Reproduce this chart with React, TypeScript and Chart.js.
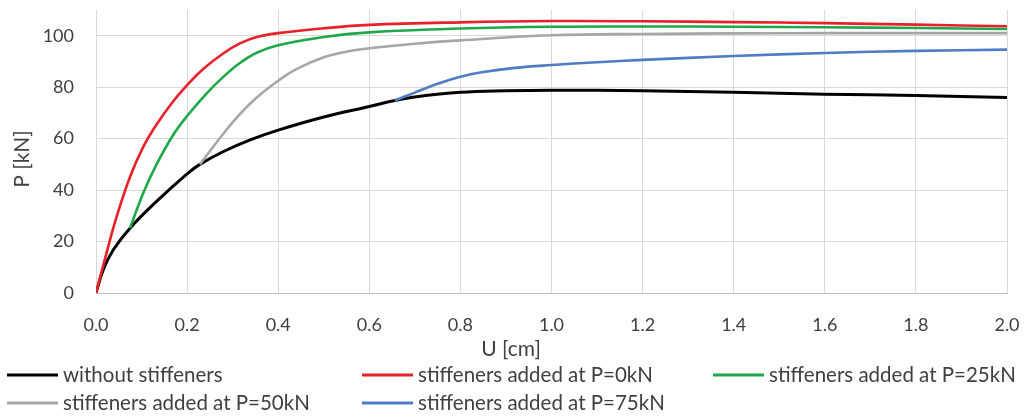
import React, { useEffect, useRef } from "react";
import { Chart, registerables } from "chart.js";

Chart.register(...registerables);

// ---- data ----
const seriesLabels = [
  "without stiffeners",
  "stiffeners added at P=0kN",
  "stiffeners added at P=25kN",
  "stiffeners added at P=50kN",
  "stiffeners added at P=75kN",
];
const seriesColors = ["#000000", "#E8202A", "#1FA84A", "#A6A6A6", "#4F7CC4"];

const noStiffU = [0, 0.016, 0.038, 0.0746, 0.133, 0.2, 0.228, 0.28, 0.34, 0.4, 0.5, 0.6, 0.656, 0.7, 0.8, 0.9, 1.0, 1.2, 1.4, 1.6, 1.8, 2.0];
const noStiffP = [0, 9.1, 16.8, 25.2, 35.6, 46.3, 50, 55, 59.6, 63.3, 68.4, 72.5, 74.8, 76.2, 78, 78.6, 78.8, 78.6, 78, 77.3, 76.8, 76];

const p0U = [0, 0.023, 0.045, 0.075, 0.104, 0.133, 0.17, 0.2, 0.236, 0.28, 0.316, 0.353, 0.4, 0.5, 0.6, 0.8, 1.0, 1.2, 1.4, 1.6, 1.8, 2.0];
const p0P = [0, 15.5, 29.5, 45.3, 56.9, 65.5, 74.6, 80.8, 87.2, 93.2, 97, 99.5, 101, 102.9, 104.2, 105.2, 105.7, 105.6, 105.3, 104.9, 104.3, 103.7];

const p25U = [0.0746, 0.104, 0.133, 0.17, 0.2, 0.243, 0.28, 0.316, 0.353, 0.4, 0.5, 0.6, 0.8, 1.0, 1.2, 1.4, 1.6, 1.8, 2.0];
const p25P = [25.2, 39, 50, 61.6, 68.8, 77.6, 84.1, 89.4, 93.4, 96.3, 99.5, 101.3, 102.8, 103.5, 103.6, 103.5, 103.3, 103, 102.6];

const p50U = [0.228, 0.28, 0.316, 0.353, 0.4, 0.44, 0.5, 0.55, 0.6, 0.7, 0.8, 1.0, 1.2, 1.4, 1.6, 1.8, 2.0];
const p50P = [50, 62, 69.5, 76, 82.5, 87, 91.6, 93.8, 95.1, 96.9, 98.2, 100.2, 100.7, 100.9, 101, 101, 101];

const p75U = [0.656, 0.7, 0.75, 0.8, 0.85, 0.92, 1.0, 1.1, 1.2, 1.4, 1.6, 1.8, 2.0];
const p75P = [74.8, 77.9, 81.3, 84.1, 85.9, 87.5, 88.6, 89.7, 90.6, 92.1, 93.3, 94.1, 94.6];

const seriesU = [noStiffU, p0U, p25U, p50U, p75U];
const seriesP = [noStiffP, p0P, p25P, p50P, p75P];

const xTitle = "U [cm]";
const yTitle = "P [kN]";

const FONT = "Lato, 'Noto Sans', sans-serif";

const customText = {
  id: "customText",
  afterDraw(chart: any) {
    const ctx = chart.ctx;
    ctx.save();
    // axis titles
    ctx.fillStyle = "#404040";
    ctx.font = `21px ${FONT}`;
    ctx.textAlign = "center";
    ctx.textBaseline = "middle";
    ctx.fillText(xTitle, 511, 349);
    ctx.save();
    ctx.translate(22, 159);
    ctx.rotate(-Math.PI / 2);
    ctx.fillText(yTitle, 0, 0);
    ctx.restore();
    // legend
    const cols = [7, 362, 713];
    const rows = [375, 403];
    ctx.font = `20.5px ${FONT}`;
    ctx.textAlign = "left";
    chart.data.datasets.forEach((ds: any, i: number) => {
      const col = i < 3 ? i : i - 3;
      const row = i < 3 ? 0 : 1;
      const x0 = cols[col];
      const y0 = rows[row];
      ctx.strokeStyle = ds.borderColor;
      ctx.lineWidth = 3;
      ctx.beginPath();
      ctx.moveTo(x0, y0);
      ctx.lineTo(x0 + 51, y0);
      ctx.stroke();
      ctx.fillStyle = "#404040";
      ctx.fillText(ds.label, x0 + 56, y0);
    });
    ctx.restore();
  },
};

export default function App() {
  const ref = useRef<HTMLCanvasElement>(null);
  useEffect(() => {
    if (!ref.current) return;
    const datasets = seriesLabels.map((label, i) => ({
      label,
      data: seriesU[i].map((u, j) => ({ x: u, y: seriesP[i][j] })),
      borderColor: seriesColors[i],
      backgroundColor: seriesColors[i],
      borderWidth: i === 0 ? 3 : 2.6,
      pointRadius: 0,
      tension: 0.4,
      fill: false,
      order: i === 0 ? 10 : i,
    }));
    const chart = new Chart(ref.current, {
      type: "line",
      data: { datasets },
      plugins: [customText],
      options: {
        animation: false,
        responsive: true,
        maintainAspectRatio: false,
        layout: { padding: { top: 10, right: 22, left: 0, bottom: 0 } },
        plugins: { legend: { display: false }, tooltip: { enabled: false } },
        scales: {
          x: {
            type: "linear",
            min: 0,
            max: 2,
            afterFit: (s: any) => {
              s.height = 126;
              s.paddingLeft = 0;
              s.paddingRight = 0;
            },
            ticks: {
              stepSize: 0.2,
              color: "#404040",
              font: { family: FONT, size: 18 },
              padding: 21,
              maxRotation: 0,
              callback: (v: any) => Number(v).toFixed(1),
            },
            grid: { color: "#D9D9D9", lineWidth: 1, drawTicks: false },
            border: { color: "#BFBFBF", width: 1 },
          },
          y: {
            type: "linear",
            min: 0,
            max: 110,
            afterFit: (s: any) => {
              s.width = 96;
              s.paddingTop = 0;
              s.paddingBottom = 0;
            },
            afterBuildTicks: (s: any) => {
              s.ticks = s.ticks.filter((t: any) => t.value <= 100);
            },
            ticks: {
              stepSize: 20,
              color: "#404040",
              font: { family: FONT, size: 18 },
              padding: 22,
            },
            grid: { color: "#D9D9D9", lineWidth: 1, drawTicks: false },
            border: { display: false },
          },
        },
      },
    });
    return () => chart.destroy();
  }, []);
  return (
    <div style={{ position: "absolute", left: 0, top: 0, width: 1029, height: 419, background: "#fff" }}>
      <canvas ref={ref} />
    </div>
  );
}
